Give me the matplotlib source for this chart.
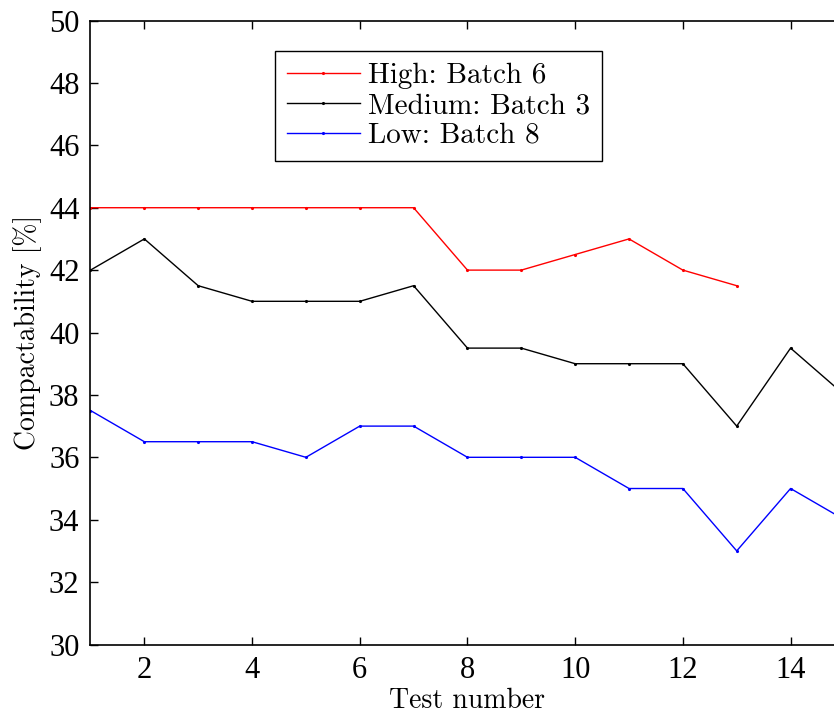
import numpy as np
import matplotlib.pyplot as plt

tests_high = np.arange(1, 14)
high = [44, 44, 44, 44, 44, 44, 44, 42, 42, 42.5, 43, 42, 41.5]

tests_med = np.arange(1, 16)
medium = [42, 43, 41.5, 41, 41, 41, 41.5, 39.5, 39.5, 39, 39, 39, 37, 39.5, 38]

tests_low = np.arange(1, 16)
low = [37.5, 36.5, 36.5, 36.5, 36, 37, 37, 36, 36, 36, 35, 35, 33, 35, 34]

label_font = 'cmr10'
plt.rcParams['font.family'] = 'Liberation Serif'

fig = plt.figure(figsize=(8.34, 7.15), dpi=100)
ax = fig.add_axes([0.1085, 0.0986, 0.904, 0.8727])

ax.plot(tests_high, high, color='red', lw=1, marker='.', ms=2.5, label='High: Batch 6')
ax.plot(tests_med, medium, color='black', lw=1, marker='.', ms=2.5, label='Medium: Batch 3')
ax.plot(tests_low, low, color='blue', lw=1, marker='.', ms=2.5, label='Low: Batch 8')

ax.set_xlim(1, 15)
ax.set_ylim(30, 50)
ax.set_xticks(np.arange(2, 16, 2))
ax.set_yticks(np.arange(30, 51, 2))
ax.tick_params(direction='in', top=True, right=True, length=6, width=1, labelsize=22, pad=8)
for s in ax.spines.values():
    s.set_linewidth(1.2)

ax.set_xlabel('Test number', family=label_font, fontsize=20, labelpad=2)
ax.set_ylabel('Compactability [%]', family=label_font, fontsize=20, labelpad=5)

leg = ax.legend(loc='upper left', bbox_to_anchor=(275 / 834, 1 - 51 / 715),
                bbox_transform=fig.transFigure, prop={'family': label_font, 'size': 21},
                fancybox=False, edgecolor='black', framealpha=1, handlelength=2.5,
                labelspacing=0.12, borderpad=0.4, handletextpad=0.3, borderaxespad=0)
leg.get_frame().set_linewidth(1)

fig.savefig('out.png', dpi=100)
